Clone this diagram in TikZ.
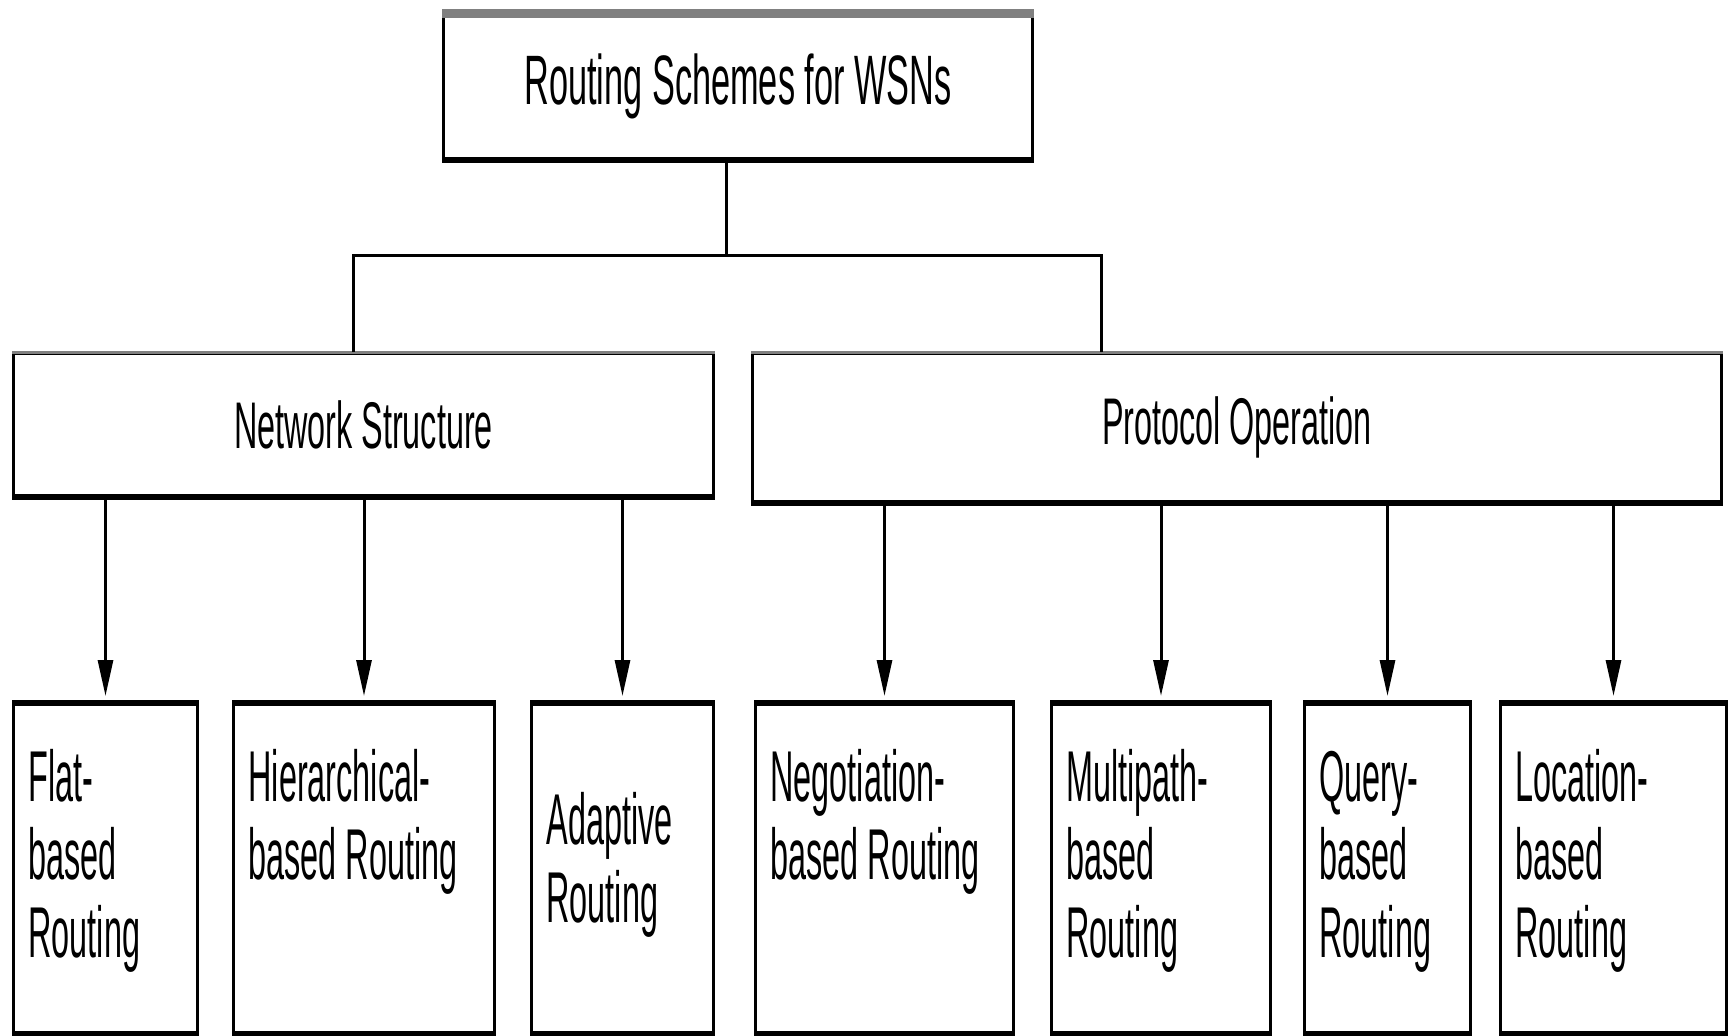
\documentclass[tikz,border=0pt]{standalone}
\usepackage{fontspec}
\setmainfont[FakeStretch=0.45]{Liberation Sans}
\newfontfamily\headfont[FakeStretch=0.49]{Liberation Sans}
\usetikzlibrary{arrows.meta,calc}

\tikzset{
  box/.style={draw, line width=1.5pt, inner sep=0pt, anchor=north west},
  head/.style={box, font=\headfont\fontsize{33}{36}\selectfont},
  leaf/.style={box, text width=#1, align=left, inner xsep=7.5pt,
    text height=48.5pt, text depth=115.5pt, font=\fontsize{36}{39}\selectfont},
  link/.style={line width=1.5pt},
  heavy/.style={line width=3pt},
  arr/.style={line width=1.5pt, -{Triangle[length=18pt,width=7.5pt]}, shorten >=3.5pt},
}
\newcommand{\gap}{\hspace{4.5pt}}

\begin{document}
\begin{tikzpicture}[x=0.5pt,y=-0.5pt]
\useasboundingbox (0,0) rectangle (1736,1035);

% nodes
\node[head, font=\headfont\fontsize{35}{38}\selectfont, minimum width=294.5pt, minimum height=71.75pt] (root) at (442,13.5) {Routing Schemes for WSNs};
\node[head, minimum width=350pt, minimum height=71pt] (ns) at (12,352) {Network Structure};
\node[head, minimum width=484.5pt, minimum height=74pt] (po) at (751,352) {Protocol Operation};

\node[leaf=77pt] (flat) at (12,703) {Flat-\\based\\Routing};
\node[leaf=115.5pt] (hier) at (232,703) {Hierarchical-\\based\gap Routing};
\node[leaf=76pt, text height=70pt, text depth=94pt] (adapt) at (530,703) {Adaptive\\Routing};
\node[leaf=114pt] (nego) at (754,703) {Negotiation-\\based\gap Routing};
\node[leaf=94.5pt] (multi) at (1050,703) {Multipath-\\based\\Routing};
\node[leaf=68pt] (query) at (1303,703) {Query-\\based\\Routing};
\node[leaf=98pt] (loc) at (1499,703) {Location-\\based\\Routing};

% heavier box edges
\draw[heavy, line width=4.5pt, gray] (root.north west) -- (root.north east);
\foreach \n in {ns,po} \draw[link, gray] (\n.north west) -- (\n.north east);
\foreach \n in {root,ns,po} \draw[heavy] (\n.south west) -- (\n.south east);
\foreach \n in {flat,hier,adapt,nego,multi,query,loc}
  \draw[heavy] (\n.north west) -- (\n.north east) (\n.south west) -- (\n.south east);

% tree lines
\coordinate (bus) at (726,255);
\draw[link] (root.south -| bus) -- (bus);
\draw[link] ([xshift=-5pt]ns.north) |- (bus) -| ($(po.north west)!0.361!(po.north east)$);

% arrows
\foreach \n in {flat,hier,adapt} \draw[arr] (ns.south -| \n.north) -- (\n.north);
\foreach \n in {nego,multi,query,loc} \draw[arr] (po.south -| \n.north) -- (\n.north);
\end{tikzpicture}
\end{document}
